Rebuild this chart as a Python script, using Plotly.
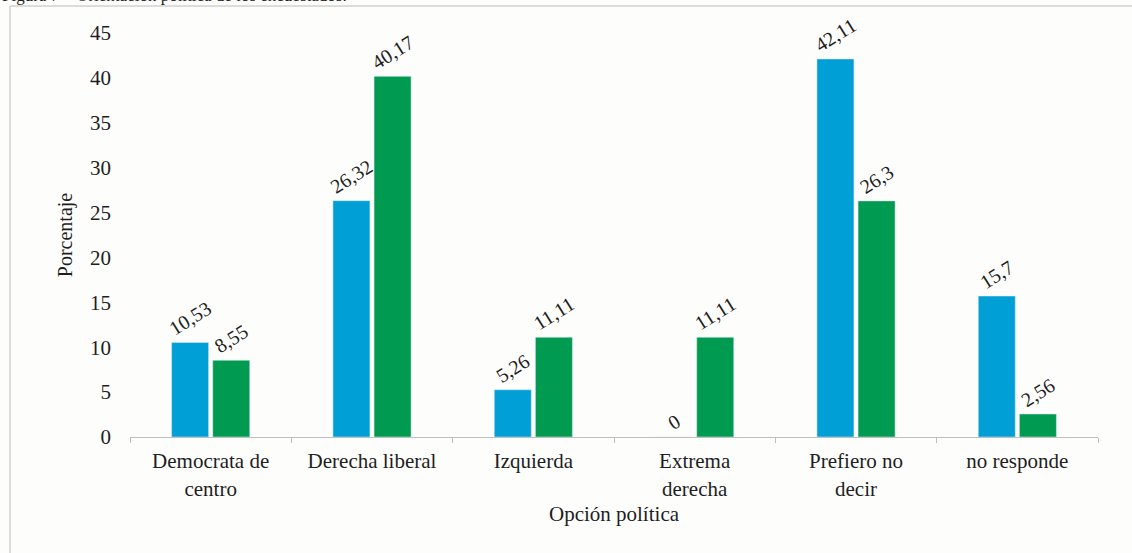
import plotly.graph_objects as go

categories = ["Democrata de<br>centro", "Derecha liberal", "Izquierda",
              "Extrema<br>derecha", "Prefiero no<br>decir", "no responde"]
serie_azul = [10.53, 26.32, 5.26, 0, 42.11, 15.7]
serie_verde = [8.55, 40.17, 11.11, 11.11, 26.3, 2.56]
y_ticks = [0, 5, 10, 15, 20, 25, 30, 35, 40, 45]

SERIF = "Liberation Serif, Times New Roman, serif"
BLUE = "#009fd6"
GREEN = "#009a50"
INK = "#1e1e1e"


def etiqueta(v):
    # decimal comma as in the original
    return str(v).replace(".", ",")


fig = go.Figure()
for serie, color, name in [(serie_azul, BLUE, "Serie 1"), (serie_verde, GREEN, "Serie 2")]:
    fig.add_trace(go.Bar(
        x=categories, y=serie, name=name,
        marker_color=color,
        text=[etiqueta(v) for v in serie],
        textposition="outside", textangle=-32, constraintext="none",
        textfont=dict(family=SERIF, size=20, color=INK),
        cliponaxis=False,
    ))

# plot area: x 130..1098 px, y 33..437 px
L, R, T, B = 130, 34, 33, 116
PW, PH = 1132 - L - R, 553 - T - B


def px_x(p):
    return (p - L) / PW


def px_y(p):
    return (T + PH - p) / PH


# outer frame (top and left edges visible)
fig.add_shape(type="line", xref="paper", yref="paper",
              x0=px_x(10), x1=px_x(1140), y0=px_y(6), y1=px_y(6),
              line=dict(color="#d0d0d0", width=1.5))
fig.add_shape(type="line", xref="paper", yref="paper",
              x0=px_x(10), x1=px_x(10), y0=px_y(6), y1=px_y(560),
              line=dict(color="#d0d0d0", width=1.5))

# caption, cut off at the top edge
fig.add_annotation(
    text="Figura 7 – Orientación política de los encuestados.",
    xref="paper", yref="paper", x=px_x(0), y=px_y(-4),
    xanchor="left", yanchor="middle", showarrow=False,
    font=dict(family=SERIF, size=17, color=INK),
)

fig.update_layout(
    width=1132, height=553,
    margin=dict(l=L, r=R, t=T, b=B, autoexpand=False),
    paper_bgcolor="#fdfdfc", plot_bgcolor="#fdfdfc",
    showlegend=False,
    barmode="group", bargap=0.49, bargroupgap=0.1,
    font=dict(family=SERIF, size=21, color=INK),
)
fig.update_xaxes(
    automargin=False,
    showline=True, linecolor="#bfbfbf", linewidth=1,
    ticks="outside", tickson="boundaries", ticklen=5, tickcolor="#bfbfbf",
    ticklabelstandoff=5,
    tickfont=dict(family=SERIF, size=21, color=INK),
    title=dict(text="Opción política", standoff=6,
               font=dict(family=SERIF, size=21, color=INK)),
    showgrid=False,
)
fig.update_yaxes(
    automargin=False,
    range=[0, 45], tickvals=y_ticks, showgrid=False, zeroline=False,
    showline=False, ticks="", ticklabelstandoff=18,
    tickfont=dict(family=SERIF, size=21, color=INK),
    title=dict(text="Porcentaje", standoff=12,
               font=dict(family=SERIF, size=20, color=INK)),
)

# drop the default page margin so the figure sits at the window's corner
fig.write_html("out.html", config={"displayModeBar": False},
               post_script="document.body.style.margin = '0';")
